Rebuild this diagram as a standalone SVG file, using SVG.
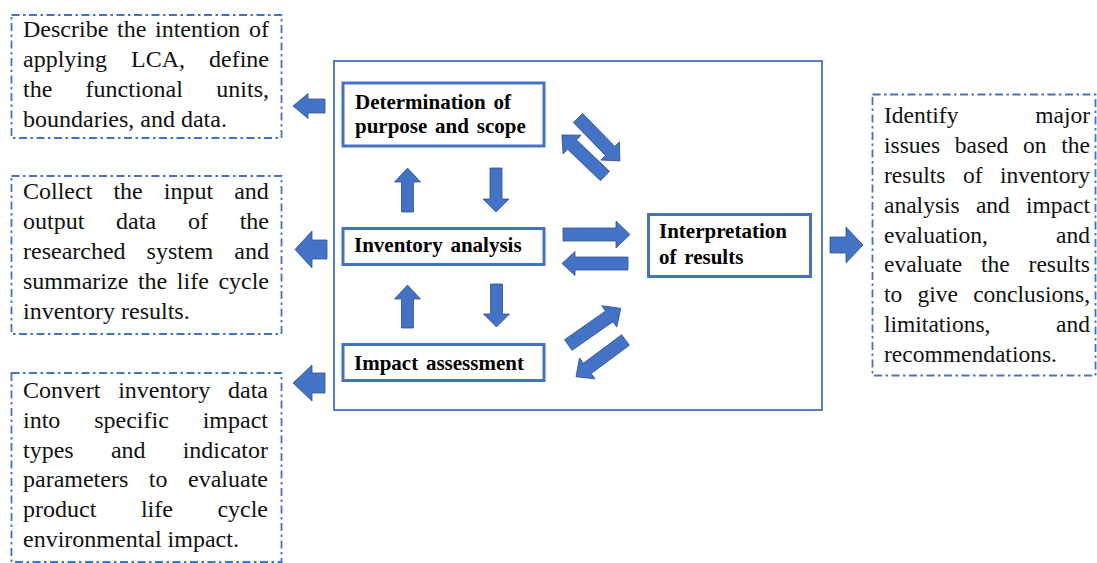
<svg xmlns="http://www.w3.org/2000/svg" width="1097" height="563" viewBox="0 0 1097 563">
<style>
.note{fill:none;stroke:#4472C4;stroke-width:1.8;stroke-dasharray:8 3.5 2.5 3.5}
.frame{fill:none;stroke:#4472C4;stroke-width:1.8}
.node{fill:#ffffff;stroke:#4472C4;stroke-width:3}
.arr{fill:#4472C4;stroke:#2F528F;stroke-width:0.8;stroke-linejoin:miter}
</style>
<rect x="0" y="0" width="1097" height="563" fill="#ffffff"/>

<g id="frame">
<rect class="frame" x="334" y="61" width="488" height="349"/>
</g>

<g id="note-purpose" font-family="'Liberation Serif', serif" font-size="24" fill="#111111">
<rect class="note" x="11.5" y="15" width="270" height="123"/>
<text><tspan x="23" y="36.7">Describe</tspan><tspan x="117" y="36.7">the</tspan><tspan x="155" y="36.7">intention</tspan><tspan x="249" y="36.7">of</tspan></text>
<text><tspan x="23" y="66.7">applying</tspan><tspan x="131" y="66.7">LCA,</tspan><tspan x="209" y="66.7">define</tspan></text>
<text><tspan x="23" y="96.7">the</tspan><tspan x="85.6" y="96.7">functional</tspan><tspan x="216.3" y="96.7">units,</tspan></text>
<text x="23" y="126.7">boundaries, and data.</text>
</g>

<g id="note-inventory" font-family="'Liberation Serif', serif" font-size="24" fill="#111111">
<rect class="note" x="11.5" y="176" width="270" height="158"/>
<text><tspan x="23" y="199">Collect</tspan><tspan x="113.4" y="199">the</tspan><tspan x="163.8" y="199">input</tspan><tspan x="234.2" y="199">and</tspan></text>
<text><tspan x="23" y="229">output</tspan><tspan x="116.1" y="229">data</tspan><tspan x="187.9" y="229">of</tspan><tspan x="239.7" y="229">the</tspan></text>
<text><tspan x="23" y="259">researched</tspan><tspan x="146.6" y="259">system</tspan><tspan x="234.3" y="259">and</tspan></text>
<text><tspan x="23" y="289">summarize</tspan><tspan x="137.9" y="289">the</tspan><tspan x="176.8" y="289">life</tspan><tspan x="218.4" y="289">cycle</tspan></text>
<text x="23" y="319">inventory results.</text>
</g>

<g id="note-impact" font-family="'Liberation Serif', serif" font-size="24" fill="#111111">
<rect class="note" x="11.5" y="373" width="270" height="189"/>
<text><tspan x="23" y="398.3">Convert</tspan><tspan x="118.2" y="398.3">inventory</tspan><tspan x="228" y="398.3">data</tspan></text>
<text><tspan x="23" y="428">into</tspan><tspan x="94.2" y="428">specific</tspan><tspan x="202.7" y="428">impact</tspan></text>
<text><tspan x="23" y="457.7">types</tspan><tspan x="110.9" y="457.7">and</tspan><tspan x="182.7" y="457.7">indicator</tspan></text>
<text><tspan x="23" y="487.4">parameters</tspan><tspan x="148.8" y="487.4">to</tspan><tspan x="188" y="487.4">evaluate</tspan></text>
<text><tspan x="23" y="517.1">product</tspan><tspan x="140.9" y="517.1">life</tspan><tspan x="217.4" y="517.1">cycle</tspan></text>
<text x="23" y="546.8">environmental impact.</text>
</g>

<g id="note-interpretation" font-family="'Liberation Serif', serif" font-size="23.5" fill="#111111">
<rect class="note" x="872.5" y="94.5" width="223" height="281"/>
<text><tspan x="884" y="123.3">Identify</tspan><tspan x="1035.2" y="123.3">major</tspan></text>
<text><tspan x="884" y="153.1">issues</tspan><tspan x="954.8" y="153.1">based</tspan><tspan x="1023" y="153.1">on</tspan><tspan x="1061.3" y="153.1">the</tspan></text>
<text><tspan x="884" y="182.9">results</tspan><tspan x="962.9" y="182.9">of</tspan><tspan x="999.9" y="182.9">inventory</tspan></text>
<text><tspan x="884" y="212.7">analysis</tspan><tspan x="975.9" y="212.7">and</tspan><tspan x="1026" y="212.7">impact</tspan></text>
<text><tspan x="884" y="242.5">evaluation,</tspan><tspan x="1056.1" y="242.5">and</tspan></text>
<text><tspan x="884" y="272.3">evaluate</tspan><tspan x="981.1" y="272.3">the</tspan><tspan x="1028.6" y="272.3">results</tspan></text>
<text><tspan x="884" y="302.1">to</tspan><tspan x="917.5" y="302.1">give</tspan><tspan x="973.2" y="302.1">conclusions,</tspan></text>
<text><tspan x="884" y="331.9">limitations,</tspan><tspan x="1056.1" y="331.9">and</tspan></text>
<text x="884" y="361.7">recommendations.</text>
</g>

<g id="node-purpose" font-family="'Liberation Serif', serif" font-size="21" font-weight="bold" word-spacing="2.5" fill="#000000">
<rect class="node" x="343" y="83" width="201" height="63"/>
<text x="355" y="109">Determination of</text>
<text x="355" y="133">purpose and scope</text>
</g>

<g id="node-inventory" font-family="'Liberation Serif', serif" font-size="21" font-weight="bold" word-spacing="2.5" fill="#000000">
<rect class="node" x="343" y="228.5" width="201" height="36"/>
<text x="354" y="252">Inventory analysis</text>
</g>

<g id="node-impact" font-family="'Liberation Serif', serif" font-size="21" font-weight="bold" word-spacing="2.5" fill="#000000">
<rect class="node" x="343" y="344.5" width="201" height="36"/>
<text x="354" y="369.5">Impact assessment</text>
</g>

<g id="node-interpretation" font-family="'Liberation Serif', serif" font-size="21" font-weight="bold" word-spacing="2.5" fill="#000000">
<rect class="node" x="648.5" y="214.5" width="162" height="62"/>
<text x="659" y="238">Interpretation</text>
<text x="659" y="264">of results</text>
</g>

<g id="connectors">
<path class="arr" d="M293,106 L308,93.5 L308,99 L325,99 L325,113 L308,113 L308,118.5 Z"/>
<path class="arr" d="M295,249.5 L312,231 L312,240 L327,240 L327,259 L312,259 L312,268 Z"/>
<path class="arr" d="M293,383 L312,365 L312,373 L325,373 L325,393 L312,393 L312,401 Z"/>
<path class="arr" d="M863,245 L846,227 L846,237 L830,237 L830,253 L846,253 L846,263 Z"/>
<path class="arr" d="M407.5,168 L420.5,182 L413.5,182 L413.5,212 L401.5,212 L401.5,182 L394.5,182 Z"/>
<path class="arr" d="M496,212 L509,199 L502,199 L502,168 L490,168 L490,199 L483,199 Z"/>
<path class="arr" d="M407.5,285 L420.5,299 L413.5,299 L413.5,328 L401.5,328 L401.5,299 L394.5,299 Z"/>
<path class="arr" d="M496.5,327 L509.5,314 L502.5,314 L502.5,284 L490.5,284 L490.5,314 L483.5,314 Z"/>
<path class="arr" d="M630,234.5 L616,221 L616,228 L563,228 L563,241 L616,241 L616,248 Z"/>
<path class="arr" d="M562,263.5 L575,251.5 L575,257 L628,257 L628,270 L575,270 L575,275.5 Z"/>
<path class="arr" transform="translate(578,118) rotate(45.7)" d="M0,-6.5 L46,-6.5 L46,-13 L60,0 L46,13 L46,6.5 L0,6.5 Z"/>
<path class="arr" transform="translate(605,176) rotate(223.6)" d="M0,-6.5 L45.5,-6.5 L45.5,-13 L59.5,0 L45.5,13 L45.5,6.5 L0,6.5 Z"/>
<path class="arr" transform="translate(568.3,345) rotate(-34.9)" d="M0,-6.5 L50,-6.5 L50,-13 L64,0 L50,13 L50,6.5 L0,6.5 Z"/>
<path class="arr" transform="translate(625.5,340) rotate(143.4)" d="M0,-6.5 L47.6,-6.5 L47.6,-13 L61.6,0 L47.6,13 L47.6,6.5 L0,6.5 Z"/>
</g>
</svg>
